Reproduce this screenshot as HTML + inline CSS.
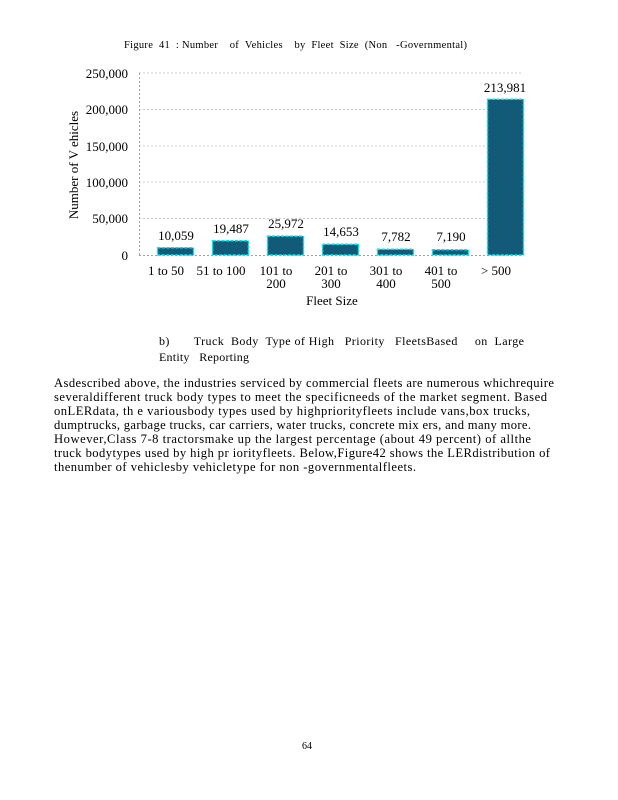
<!DOCTYPE html>
<html><head><meta charset="utf-8"><style>
body{margin:0;background:#fff;width:618px;height:800px;overflow:hidden;position:relative;font-family:"Liberation Serif",serif;color:#000}
</style></head><body>
<svg width="618" height="800" style="position:absolute;left:0;top:0" font-family="Liberation Serif, serif">
<text x="124" y="48" font-size="10.5" textLength="343" lengthAdjust="spacing">Figure&#160;&#160;41&#160;&#160;: Number&#160;&#160;&#160;&#160;of&#160;&#160;Vehicles&#160;&#160;&#160;&#160;by&#160;&#160;Fleet&#160;&#160;Size&#160;&#160;(Non&#160;&#160;&#160;-Governmental)</text>
<g stroke="#ccc" stroke-dasharray="2,2" stroke-width="1">
<line x1="139" y1="73" x2="523" y2="73"/><line x1="139" y1="109.5" x2="523" y2="109.5"/>
<line x1="139" y1="146" x2="523" y2="146"/><line x1="139" y1="182" x2="523" y2="182"/>
<line x1="139" y1="218.5" x2="523" y2="218.5"/></g>
<line x1="139.5" y1="73" x2="139.5" y2="255" stroke="#00e5ee" stroke-dasharray="2,2"/>
<line x1="139" y1="255.5" x2="523" y2="255.5" stroke="#00e5ee" stroke-dasharray="2,2"/>
<g font-size="13" text-anchor="end">
<text x="128" y="78">250,000</text><text x="128" y="114">200,000</text><text x="128" y="151">150,000</text>
<text x="128" y="187">100,000</text><text x="128" y="223">50,000</text><text x="128" y="260">0</text></g>
<text transform="translate(78,165) rotate(-90)" font-size="13" text-anchor="middle">Number of V ehicles</text>
<g fill="#135a78" stroke="#00e5ee" stroke-width="1.5" stroke-dasharray="3,1.5">
<rect x="157.5" y="247.7" width="36" height="7.3"/>
<rect x="212.5" y="240.8" width="36" height="14.2"/>
<rect x="267.5" y="236.1" width="36" height="18.9"/>
<rect x="322.5" y="244.3" width="36" height="10.7"/>
<rect x="377.5" y="249.3" width="36" height="5.7"/>
<rect x="432.5" y="249.8" width="36" height="5.2"/>
<rect x="487.5" y="99.2" width="36" height="155.8"/></g>
<g font-size="13" text-anchor="middle">
<text x="176" y="240">10,059</text><text x="231" y="233">19,487</text><text x="286" y="228">25,972</text>
<text x="341" y="236">14,653</text><text x="396" y="241">7,782</text><text x="451" y="241">7,190</text>
<text x="505" y="92">213,981</text>
<text x="166" y="275">1 to 50</text><text x="221" y="275">51 to 100</text>
<text x="276" y="275">101 to</text><text x="276" y="288">200</text>
<text x="331" y="275">201 to</text><text x="331" y="288">300</text>
<text x="386" y="275">301 to</text><text x="386" y="288">400</text>
<text x="441" y="275">401 to</text><text x="441" y="288">500</text>
<text x="496" y="275">&gt; 500</text>
<text x="332" y="305">Fleet Size</text></g>
<g font-size="12">
<text x="159" y="345" textLength="365" lengthAdjust="spacing">b)&#160;&#160;&#160;&#160;&#160;&#160;&#160;Truck&#160;&#160;Body&#160;&#160;Type of High&#160;&#160;&#160;Priority&#160;&#160;&#160;FleetsBased&#160;&#160;&#160;&#160;&#160;on&#160;&#160;Large</text>
<text x="159" y="361" textLength="90" lengthAdjust="spacing">Entity&#160;&#160;&#160;Reporting</text>
</g>
<g font-size="12.6" lengthAdjust="spacingAndGlyphs">
<text x="54" y="387" textLength="500">Asdescribed above, the industries serviced by commercial fleets are numerous whichrequire</text>
<text x="54" y="401" textLength="493">severaldifferent truck body types to meet the specificneeds of the market segment. Based</text>
<text x="54" y="415" textLength="476">onLERdata, th e variousbody types used by highpriorityfleets include vans,box trucks,</text>
<text x="54" y="429" textLength="477">dumptrucks, garbage trucks, car carriers, water trucks, concrete mix ers, and many more.</text>
<text x="54" y="443" textLength="477">However,Class 7-8 tractorsmake up the largest percentage (about 49 percent) of allthe</text>
<text x="54" y="457" textLength="496">truck bodytypes used by high pr iorityfleets. Below,Figure42 shows the LERdistribution of</text>
<text x="54" y="471" textLength="362">thenumber of vehiclesby vehicletype for non -governmentalfleets.</text>
</g>
<text x="302" y="749" font-size="10">64</text>
</svg>
</body></html>
